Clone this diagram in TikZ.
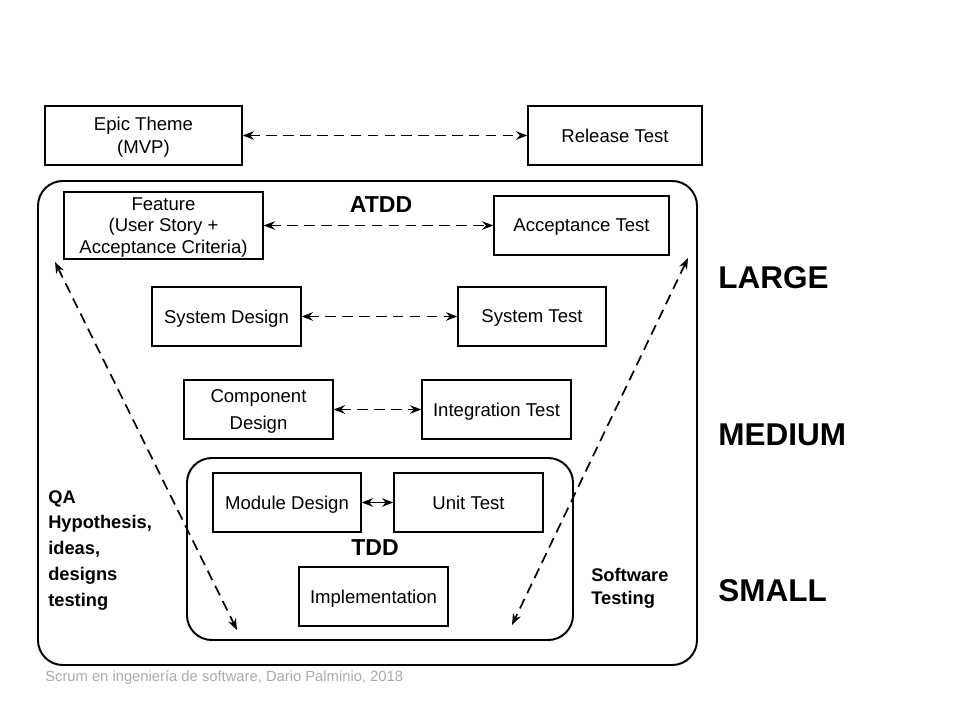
\documentclass[tikz,border=0pt]{standalone}
\usepackage{fontspec}
\setmainfont{Liberation Sans}
\usepackage{tikz}
\usetikzlibrary{arrows, arrows.meta}
\definecolor{colorLine}{RGB}{0, 0, 0}
\definecolor{colorNote}{RGB}{170, 170, 170}
\newcommand{\boxfont}{\fontsize{13.2}{15.2}\selectfont}
\newcommand{\tagfont}{\fontsize{16.4}{19}\selectfont\bfseries}
\newcommand{\sizefont}{\fontsize{22.4}{26}\selectfont\bfseries}
\newcommand{\notefont}{\fontsize{13}{18.4}\selectfont\bfseries}
\tikzstyle{process} = [rectangle, minimum height=1.475cm, inner sep=0pt, text centered, align=center, text depth=0pt, draw=colorLine, line width=0.9pt, font=\boxfont]
\tikzstyle{container} = [draw=colorLine, line width=1.4pt, rounded corners=0.62cm]
\tikzstyle{tag} = [inner sep=0pt, font=\tagfont]
\tikzstyle{sizeTag} = [anchor=west, inner sep=0pt, font=\sizefont]
\tikzstyle{note} = [anchor=north west, inner sep=0pt, align=left, font=\notefont]
\tikzstyle{arrow} = [dashed, <->, >={Stealth[length=8pt, width=6pt]}, line width=1.2pt, dash pattern=on 7.5pt off 4.5pt]

\begin{document}
\begin{tikzpicture}[x=0.025cm, y=-0.025cm]

		\useasboundingbox (0,0) rectangle (960,720);

		% outer and inner frames
		\draw[container] (38,181) rectangle (697,665);
		\draw[container] (187,458) rectangle (573,640);

		% top level
		\node (pEpic)[process, minimum width=4.925cm] at (143.5,135.5) {Epic Theme\\[1.5pt](MVP)};
		\node (pRelease)[process, minimum width=4.35cm] at (615,135.5) {Release Test};

		% large
		\node (pFeature)[process, minimum width=4.975cm, minimum height=1.675cm] at (163.5,225.5) {Feature\\(User Story +\\Acceptance Criteria)};
		\node (pAccept)[process, minimum width=4.375cm] at (581.5,225.5) {Acceptance Test};
		\node (tATDD)[tag] at (381,205) {ATDD};

		\node (pSysDesign)[process, minimum width=3.725cm] at (226.5,316.5) {System Design};
		\node (pSysTest)[process, minimum width=3.7cm] at (532,316.5) {System Test};

		% medium
		\node (pCompDesign)[process, minimum width=3.725cm] at (258.5,409.5) {Component\\[3.5pt]Design};
		\node (pIntTest)[process, minimum width=3.725cm] at (496.5,409.5) {Integration Test};

		% small
		\node (pModDesign)[process, minimum width=3.7cm] at (287,502.5) {Module Design};
		\node (pUnitTest)[process, minimum width=3.725cm] at (468.5,502.5) {Unit Test};
		\node (tTDD)[tag] at (375,548) {TDD};
		\node (pImpl)[process, minimum width=3.725cm] at (373.5,596.5) {Implementation};

		% side texts
		\node (nQA)[note] at (48,490) {QA\\Hypothesis,\\ideas,\\designs\\testing};
		\node (nSoftTest)[note, font=\fontsize{13}{16.3}\selectfont\bfseries] at (591,568) {Software\\Testing};

		\node (sLarge)[sizeTag] at (718,278) {LARGE};
		\node (sMedium)[sizeTag] at (718,435) {MEDIUM};
		\node (sSmall)[sizeTag] at (718,591) {SMALL};

		\node (nSource)[anchor=west, inner sep=0pt, text=colorNote, font=\fontsize{10.5}{12}\selectfont] at (45,678) {Scrum en ingeniería de software, Dario Palminio, 2018};

		% ends of the diagonals
		\coordinate (qaTop) at (55,262);
		\coordinate (qaBottom) at (237,630);
		\coordinate (testTop) at (688,258);
		\coordinate (testBottom) at (512,625);

		% lines and arrows
		\draw[arrow](pEpic) -- (pRelease);
		\draw[arrow](pFeature) -- (pAccept);
		\draw[arrow](pSysDesign) -- (pSysTest);
		\draw[arrow](pCompDesign) -- (pIntTest);
		\draw[arrow, solid](pModDesign) -- (pUnitTest);

		\draw[arrow](qaTop) -- (qaBottom);
		\draw[arrow](testTop) -- (testBottom);

	\end{tikzpicture}
\end{document}
